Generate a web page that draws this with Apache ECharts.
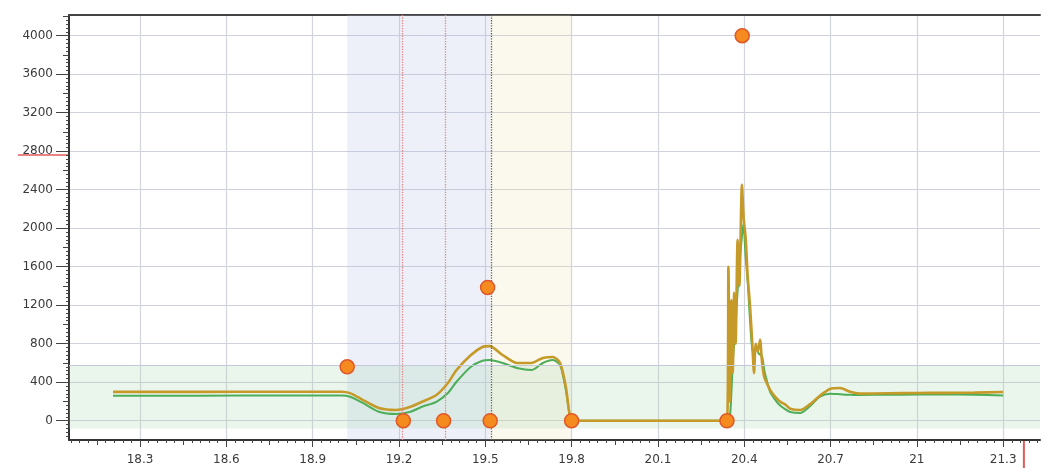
<!DOCTYPE html>
<html><head><meta charset="utf-8">
<script src="https://cdn.jsdelivr.net/npm/echarts@6/dist/echarts.min.js"></script>
<style>html,body{margin:0;padding:0;background:#fff}#c{width:1042px;height:468px}</style>
</head><body><div id="c"></div>
<script>
const xTickLabels = [18.3, 18.6, 18.9, 19.2, 19.5, 19.8, 20.1, 20.4, 20.7, 21, 21.3];
const yTickLabels = [0, 400, 800, 1200, 1600, 2000, 2400, 2800, 3200, 3600, 4000];

const goldLine = [
  [18.206,300],[18.5,300],[18.8,302],[19.0,302],[19.03,287],[19.075,215],[19.13,132],[19.19,111],
  [19.24,145],[19.28,197],[19.33,267],[19.37,392],[19.40,527],[19.45,683],[19.49,766],[19.515,775],
  [19.56,683],[19.61,600],[19.66,600],[19.70,652],[19.735,662],[19.76,600],[19.78,350],[19.795,40],
  [19.81,0],[19.83,0],[20.32,0],[20.34,0],[20.345,1600],[20.35,200],[20.355,1250],[20.36,500],
  [20.365,1330],[20.37,800],[20.377,1880],[20.383,1400],[20.392,2450],[20.398,2100],[20.405,1900],
  [20.412,1500],[20.42,1200],[20.428,800],[20.434,495],[20.44,800],[20.447,720],[20.455,840],
  [20.462,600],[20.47,450],[20.48,380],[20.49,320],[20.507,250],[20.524,200],[20.542,170],[20.56,125],
  [20.594,111],[20.628,170],[20.663,260],[20.698,330],[20.733,340],[20.768,300],[20.80,282],
  [20.9,285],[21.0,288],[21.1,290],[21.2,292],[21.3,298]
];
const greenLine = [
  [18.206,260],[18.5,260],[18.8,262],[19.0,262],[19.03,250],[19.075,184],[19.13,94],[19.19,70],
  [19.24,94],[19.28,145],[19.33,197],[19.37,288],[19.40,405],[19.45,561],[19.49,623],[19.515,630],
  [19.56,600],[19.61,548],[19.66,527],[19.70,600],[19.735,630],[19.76,579],[19.78,319],[19.795,38],
  [19.81,0],[19.83,0],[20.32,0],[20.345,0],[20.352,100],[20.36,600],[20.37,1000],[20.38,1500],
  [20.39,1850],[20.397,2050],[20.405,1700],[20.413,1400],[20.42,1050],[20.43,700],[20.44,770],
  [20.45,700],[20.462,665],[20.47,520],[20.48,400],[20.49,300],[20.507,220],[20.524,160],[20.542,120],
  [20.56,90],[20.594,80],[20.628,150],[20.663,250],[20.698,280],[20.733,275],[20.768,270],[20.80,268],
  [20.9,270],[21.0,272],[21.1,272],[21.2,270],[21.3,262]
];
const markerPoints = [[19.02,560],[19.215,0],[19.355,0],[19.517,0],[19.508,1385],[19.8,0],[20.34,0],[20.393,4000]];

const blueBand = [19.02, 19.517];
const beigeBand = [19.517, 19.797];
const greenBand = [-80, 580];
const redDottedLines = [19.215, 19.355];
const darkDottedLine = 19.515;
const yAxisMarker = 2760;
const xAxisMarker = 21.372;

const xMin = 18.053, xMax = 21.428, yMin = -200, yMax = 4215;

function range(a, b, step) { const r = []; for (let v = a; v <= b + 1e-9; v += step) r.push(Math.round(v * 1000) / 1000); return r; }
const xMid = xTickLabels.map(v => Math.round((v - 0.15) * 1000) / 1000).filter(v => v > xMin);
const xMinor = range(18.06, 21.42, 0.03);
const yMid = yTickLabels.map(v => v + 200).filter(v => v < yMax);
const yMinor = range(-160, 4200, 40);

const labelFont = { fontFamily: 'DejaVu Sans', fontSize: 12, color: '#3a3a3a', formatter: v => String(v) };
const noShow = { show: false };
const hiddenLine = { show: false, onZero: false };

function tickAxisX(values, len) {
  return { type: 'value', min: xMin, max: xMax, position: 'bottom', gridIndex: 0,
    axisLine: hiddenLine, splitLine: noShow, axisLabel: noShow,
    axisTick: { show: true, inside: false, length: len, customValues: values, lineStyle: { color: '#444', width: 1 } } };
}
function tickAxisY(values, len) {
  return { type: 'value', min: yMin, max: yMax, position: 'left', gridIndex: 0,
    axisLine: hiddenLine, splitLine: noShow, axisLabel: noShow,
    axisTick: { show: true, inside: false, length: len, customValues: values, lineStyle: { color: '#444', width: 1 } } };
}

const chart = echarts.init(document.getElementById('c'), null, { renderer: 'canvas' });
chart.setOption({
  animation: false,
  backgroundColor: '#ffffff',
  grid: { left: 69, right: 2, top: 15, bottom: 28, containLabel: false, outerBoundsMode: 'none' },
  xAxis: [
    { type: 'value', min: xMin, max: xMax, position: 'bottom',
      axisLine: { show: true, onZero: false, lineStyle: { color: '#333', width: 2 } },
      axisTick: { show: true, length: 7, customValues: xTickLabels, lineStyle: { color: '#444' } },
      axisLabel: Object.assign({ customValues: xTickLabels, margin: 14 }, labelFont),
      splitLine: { show: true, lineStyle: { color: '#d3d5dc', width: 1.2 } } },
    tickAxisX(xMid, 5),
    tickAxisX(xMinor, 3),
    { type: 'value', min: xMin, max: xMax, position: 'top',
      axisLine: { show: true, onZero: false, lineStyle: { color: '#444', width: 2 } },
      axisTick: noShow, axisLabel: noShow, splitLine: noShow }
  ],
  yAxis: [
    { type: 'value', min: yMin, max: yMax, position: 'left',
      axisLine: { show: true, onZero: false, lineStyle: { color: '#333', width: 2 } },
      axisTick: { show: true, length: 13, customValues: yTickLabels, lineStyle: { color: '#444' } },
      axisLabel: Object.assign({ customValues: yTickLabels, margin: 16 }, labelFont),
      splitLine: { show: true, lineStyle: { color: '#cfd1dc', width: 1.2 } } },
    tickAxisY(yMid, 6),
    tickAxisY(yMinor, 3)
  ],
  series: [
    { name: 'green', type: 'line', data: greenLine, smooth: 0.25, showSymbol: false, z: 3,
      lineStyle: { color: '#4cae58', width: 2 },
      markArea: { silent: true, data: [
        [{ xAxis: blueBand[0], itemStyle: { color: 'rgba(175,185,228,0.22)' } }, { xAxis: blueBand[1] }],
        [{ xAxis: beigeBand[0], itemStyle: { color: 'rgba(235,222,175,0.22)' } }, { xAxis: beigeBand[1] }],
        [{ yAxis: greenBand[0], itemStyle: { color: 'rgba(170,215,178,0.25)' } }, { yAxis: greenBand[1] }]
      ] },
      markLine: { silent: true, symbol: 'none', label: noShow, data: [
        { xAxis: redDottedLines[0], lineStyle: { color: '#e58585', type: 'dotted', width: 1.3 } },
        { xAxis: redDottedLines[1], lineStyle: { color: '#e58585', type: 'dotted', width: 1.3 } },
        { xAxis: darkDottedLine, lineStyle: { color: '#5a6480', type: 'dotted', width: 1.3 } },
        { yAxis: greenBand[1], lineStyle: { color: '#c3c9d8', type: 'solid', width: 1 } }
      ] } },
    { name: 'gold', type: 'line', data: goldLine, smooth: 0.25, showSymbol: false, z: 4,
      lineStyle: { color: '#c69a28', width: 2.6 } },
    { name: 'markers', type: 'scatter', data: markerPoints, symbolSize: 14, z: 6,
      itemStyle: { color: '#f58a1f', borderColor: '#e0582a', borderWidth: 1.5, opacity: 1 } }
  ]
});

const gx0 = chart.convertToPixel({ xAxisIndex: 0 }, xMin);
const gy0 = chart.convertToPixel({ yAxisIndex: 0 }, yMin);
const py = chart.convertToPixel({ yAxisIndex: 0 }, yAxisMarker);
const px = chart.convertToPixel({ xAxisIndex: 0 }, xAxisMarker);
chart.setOption({
  graphic: [
    { type: 'line', silent: true, shape: { x1: gx0 - 51, y1: py, x2: gx0, y2: py }, style: { stroke: '#e05a5a', lineWidth: 1.5 } },
    { type: 'line', silent: true, shape: { x1: px, y1: gy0, x2: px, y2: gy0 + 28 }, style: { stroke: '#e05a5a', lineWidth: 2 } }
  ]
});
</script>
</body></html>
